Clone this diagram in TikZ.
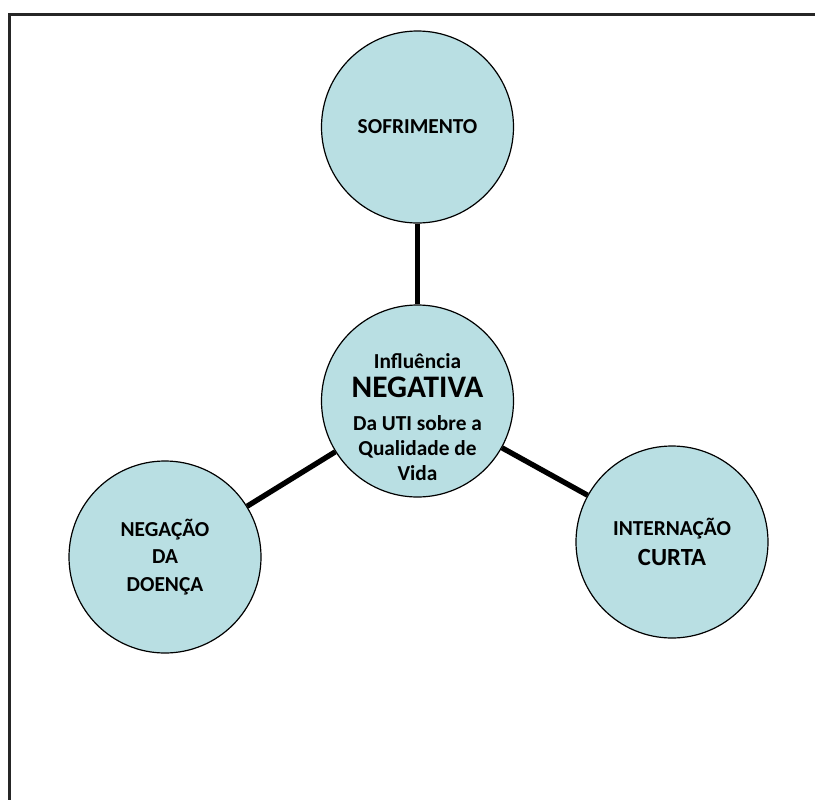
\documentclass[tikz,border=0pt]{standalone}
\usepackage{fontspec}
\setmainfont{Carlito}
\definecolor{bubble}{RGB}{185,223,227}
\begin{document}
\begin{tikzpicture}[x=0.75pt,y=-0.75pt,
  bub/.style={circle,draw=black,line width=0.9pt,fill=bubble,minimum size=144pt,inner sep=0pt,align=center,font=\bfseries\fontsize{16}{20.6}\selectfont},
  txt/.style={inner sep=0pt,align=center,font=\bfseries\fontsize{16}{18.75}\selectfont},
  link/.style={line width=4pt,black}]
\useasboundingbox (0,0) rectangle (815,800);
\draw[line width=1.6pt,black!85] (9.5,825) -- (9.5,14.5) -- (830,14.5);
\node[bub] (s) at (417.5,127) {SOFRIMENTO};
\node[bub] (c) at (417.5,401) {};
\node[txt] (ct) at (417.5,417.5) {Influência\\[3pt]{\fontsize{23.5}{24}\selectfont NEGATIVA}\\[6pt]Da UTI sobre a\\Qualidade de\\Vida};
\node[bub] (l) at (165,557) {NEGAÇÃO\\DA\\DOENÇA};
\node[bub] (r) at (672,542) {INTERNAÇÃO\\[2pt]{\fontsize{18.5}{20}\selectfont CURTA}};
\draw[link] (s) -- (c);
\draw[link] (c) -- (l);
\draw[link] (c) -- (r);
\end{tikzpicture}
\end{document}
